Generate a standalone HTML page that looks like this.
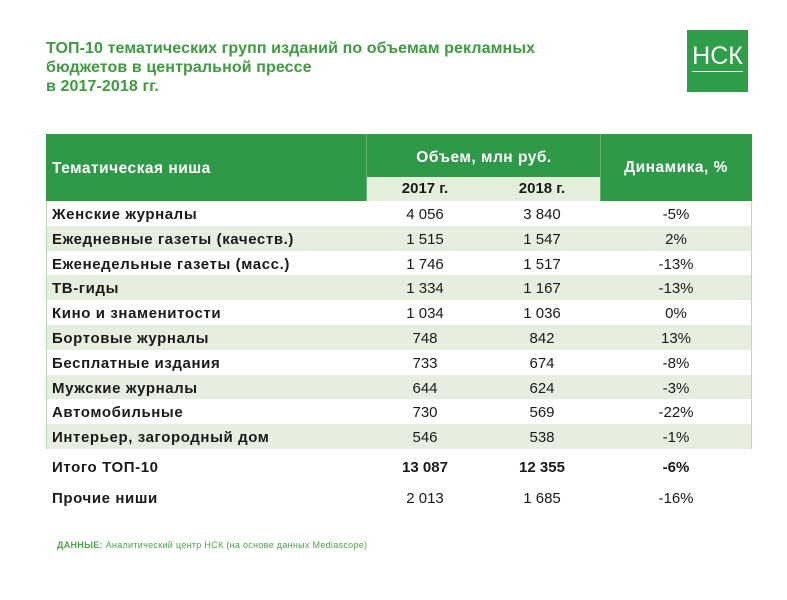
<!DOCTYPE html>
<html><head><meta charset="utf-8">
<style>
*{margin:0;padding:0;box-sizing:border-box}
body{width:787px;height:600px;background:#fff;position:relative;overflow:hidden;font-family:"Liberation Sans","Noto Sans CJK SC",sans-serif;color:#1a1a1a}
.abs{position:absolute}
#title{left:46px;top:39px;font-size:16px;font-weight:bold;color:#3e9b3f;line-height:19px;letter-spacing:0.1px}
#logo{left:687px;top:30px;width:61px;height:62px;background:#2e9e48;color:#fff;font-size:25px;text-align:center;line-height:52px}
#logo span{border-bottom:1.5px solid #fff;padding-bottom:1px}
.cell{position:absolute;font-size:15px;line-height:25px;height:25px;white-space:nowrap}
.name{left:52px;font-weight:bold;letter-spacing:0.6px}
.c1{left:367px;width:116px;text-align:center}
.c2{left:483px;width:118px;text-align:center}
.c3{left:600px;width:152px;text-align:center}
.hdr{color:#fff;font-weight:bold;font-size:15.5px;letter-spacing:0.5px}
#foot{left:57px;top:540px;font-size:9px;color:#4aa64a;letter-spacing:0.3px}
</style></head><body>
<div id="title" class="abs">ТОП-10 тематических групп изданий по объемам рекламных<br>бюджетов в центральной прессе<br>в 2017-2018 гг.</div>
<div id="logo" class="abs"><span>НСК</span></div>

<div class="abs" style="left:46px;top:134px;width:706px;height:67px;background:#2e9a48"></div>
<div class="abs" style="left:367px;top:177px;width:234px;height:24px;background:#e3eedb"></div>
<div class="abs" style="left:366px;top:134px;width:1px;height:67px;background:#5fb472"></div>
<div class="abs" style="left:600px;top:134px;width:1px;height:67px;background:#5fb472"></div>
<div class="abs" style="left:46px;top:201px;width:706px;height:248px;border:1px solid #bcdab6;border-top:none"></div>
<div class="cell name hdr" style="top:156px">Тематическая ниша</div>
<div class="cell hdr" style="left:367px;width:234px;text-align:center;top:145px">Объем, млн руб.</div>
<div class="cell hdr c3" style="top:155px">Динамика, %</div>
<div class="cell c1" style="top:177px;font-weight:bold;line-height:24px">2017 г.</div>
<div class="cell c2" style="top:177px;font-weight:bold;line-height:24px">2018 г.</div>

<div id="rows"></div>
<div id="foot" class="abs"><b>ДАННЫЕ:</b> Аналитический центр НСК (на основе данных Mediascope)</div>

<script>
const niches=["Женские журналы","Ежедневные газеты (качеств.)","Еженедельные газеты (масс.)","ТВ-гиды","Кино и знаменитости","Бортовые журналы","Бесплатные издания","Мужские журналы","Автомобильные","Интерьер, загородный дом","Итого ТОП-10","Прочие ниши"];
const v2017=["4 056","1 515","1 746","1 334","1 034","748","733","644","730","546","13 087","2 013"];
const v2018=["3 840","1 547","1 517","1 167","1 036","842","674","624","569","538","12 355","1 685"];
const dyn=["-5%","2%","-13%","-13%","0%","13%","-8%","-3%","-22%","-1%","-6%","-16%"];
const body=document.body;
niches.forEach((n,i)=>{
  let top = i<10 ? 201+i*24.8 : (i===10?454:485);
  if(i<10 && i%2===1){
    const bg=document.createElement('div');
    bg.className='abs';
    bg.style.cssText=`left:47px;top:${top}px;width:704px;height:24.8px;background:#e6efdf`;
    
    
    body.insertBefore(bg,document.getElementById('rows'));
  }
  const bold=i===10;
  [[n,'name','niche-label'],[v2017[i],'c1','value-2017'],[v2018[i],'c2','value-2018'],[dyn[i],'c3','dynamics-value']].forEach(([t,c,nm])=>{
    const d=document.createElement('div');
    d.className='cell '+c;
    d.style.top=(top+1)+'px';
    if(bold) d.style.fontWeight='bold';
    d.textContent=t;
    
    
    body.appendChild(d);
  });
});
</script>
</body></html>
